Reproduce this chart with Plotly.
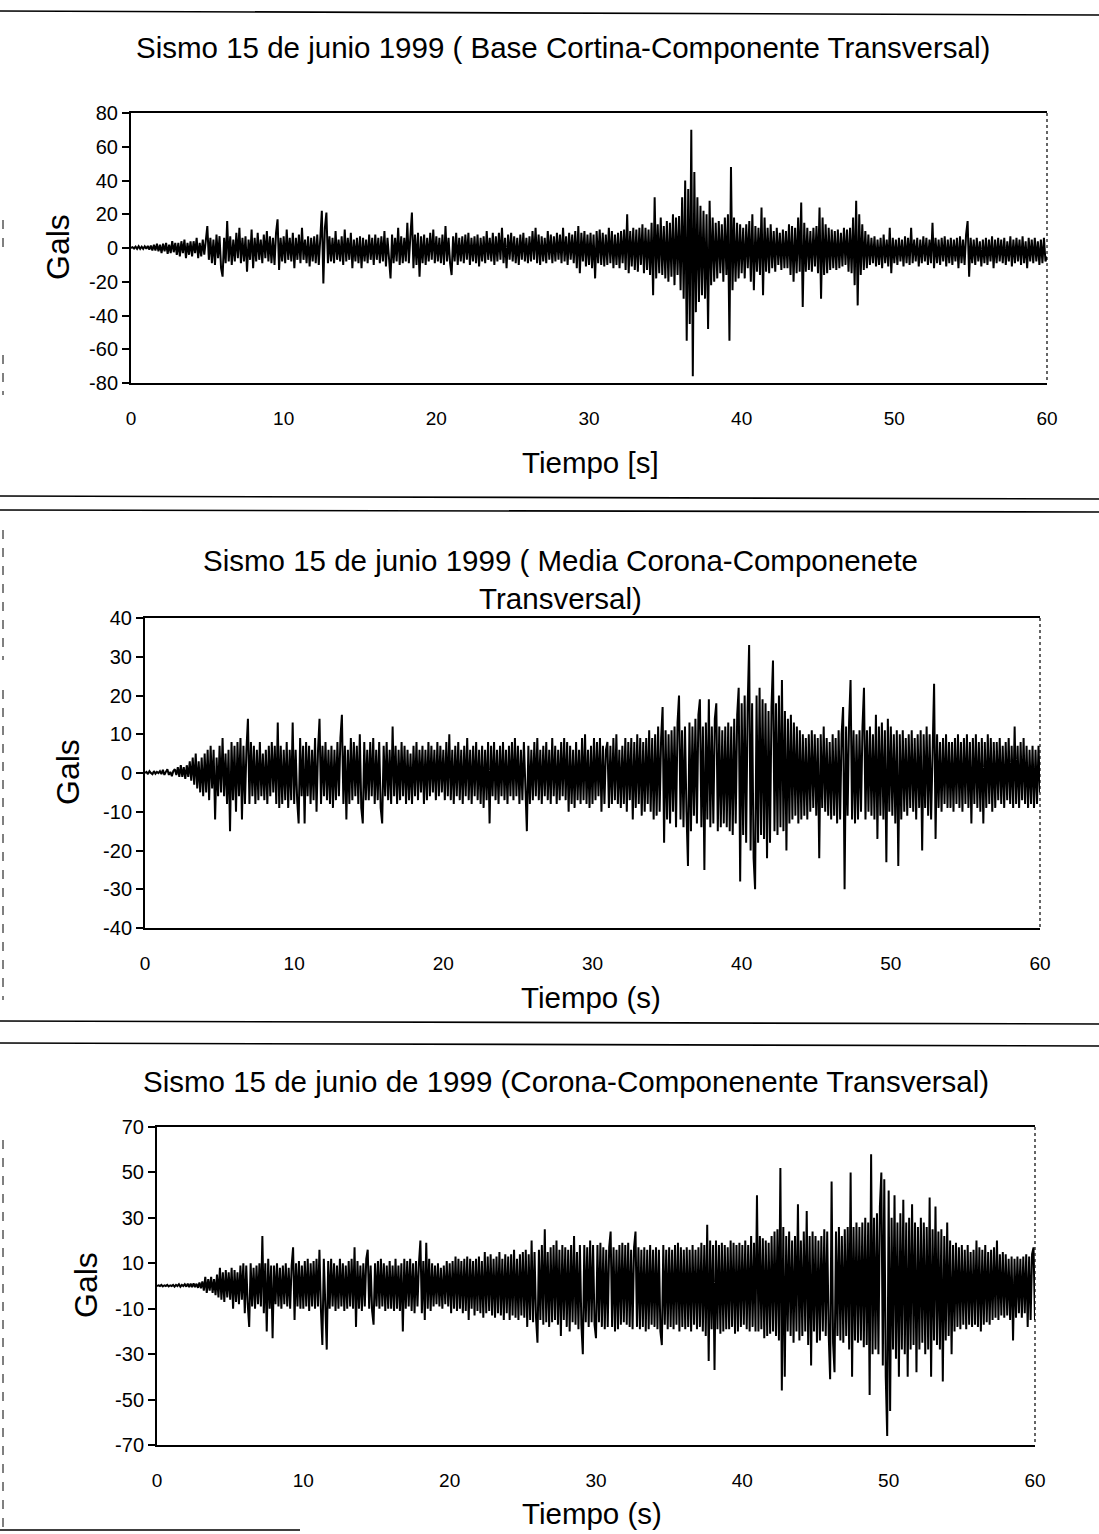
import plotly.graph_objects as go

W, H = 1099, 1534
DT = 0.1  # sample step (s) of the hand-read traces

# ---------------- data (Gals), 10 samples per second ----------------
base_cortina = [
    0, 0.5, -0.3, 0.8, -0.5, 1, -0.5, 0.8, -0.5, 1,            # 0 s
    -0.5, 1.2, -1, 1.5, -1.5, 2, -1.5, 2.5, -2, 2,             # 1
    -3, 2.5, -2, 3, -3.5, 2, -3, 4, -2.5, 3,                   # 2
    -4, 3, -5, 4, -3, 5, -6, 3, -4, 4,                         # 3
    -5, 4, -3, 6, -6, 3, -5, 5, -4, 5,                         # 4
    13, -7, 6, -9, 5, -10, 8, -6, 7, -12,                      # 5
    -17, 6, -9, 16, -8, 7, -10, 5, -8, 9,                      # 6
    -6, 12, -9, 6, -8, 7, -14, 5, -7, 11,                      # 7
    -12, 6, -8, 9, -7, 5, -9, 8, -6, 10,                       # 8
    -8, 7, -9, 6, -10, 9, 17, -13, 6, -8,                      # 9
    7, -9, 11, -7, 6, -8, 9, -12, 6, -7,                       # 10
    8, -9, 12, -7, 5, -9, 7, -11, 6, -8,                       # 11
    7, -9, 8, -10, 6, 22, -21, 12, 21, -9,                     # 12
    7, -8, 6, -9, 10, -7, 5, -8, 7, -10,                       # 13
    11, -8, 6, -7, 9, -12, 5, -8, 6, -9,                       # 14
    7, -12, 6, -8, 5, -9, 8, -7, 6, -10,                       # 15
    8, -7, 6, -9, 7, -8, 10, -11, 6, -7,                       # 16
    -18, 8, -9, 6, -8, 12, -10, 7, -9, 6,                      # 17
    -8, 15, -9, 7, 21, -12, 8, -10, 9, -17,                    # 18
    7, -9, 8, -10, 6, -8, 9, -7, 11, -9,                       # 19
    7, -8, 6, -9, 8, -10, 13, -8, 6, -9,                       # 20
    -16, 7, -8, 9, -10, 6, -8, 7, -9, 8,                       # 21
    -7, 9, -10, 6, -8, 7, -9, 8, -11, 6,                       # 22
    -8, 7, -9, 10, -7, 6, -8, 9, -10, 7,                       # 23
    -8, 9, -7, 12, -9, 6, -12, 8, -7, 9,                       # 24
    -8, 7, -9, 6, -10, 8, -7, 9, -8, 6,                        # 25
    -9, 7, -8, 10, -7, 12, -9, 8, -10, 7,                      # 26
    -8, 6, -9, 10, -7, 8, -9, 7, -8, 9,                        # 27
    -7, 8, -9, 12, -8, 7, -10, 9, -7, 8,                       # 28
    -9, 10, -12, 13, -15, 9, -8, 10, -11, 8,                   # 29
    -10, 9, -12, 8, -18, 10, -9, 11, -10, 9,                   # 30
    -11, 8, -10, 12, -9, 10, -12, 8, -10, 9,                   # 31
    -12, 10, -9, 11, -13, 20, -15, 10, -11, 12,                # 32
    -13, 11, -14, 12, -10, 14, -15, 12, -13, 11,               # 33
    -16, 15, -28, 30, -18, 14, -15, 18, -16, 13,               # 34
    -18, 16, -20, 15, -17, 20, -22, 18, -16, 19,               # 35
    -25, 30, -30, 40, -55, 35, -45, 70, -76, 45,               # 36
    -38, 30, -32, 25, -28, 22, -30, 20, -48, 28,               # 37
    -22, 18, -20, 15, -18, 16, -15, 14, -20, 18,               # 38
    -16, 20, -55, 48, -25, 18, -20, 15, -18, 14,               # 39
    -15, 12, -18, 14, -12, 16, -20, 20, -25, 13,               # 40
    -14, 12, -16, 24, -28, 18, -14, 12, -15, 14,               # 41
    -12, 10, -14, 12, -10, 9, -13, 11, -12, 10,                # 42
    -12, 14, -16, 13, -20, 12, -15, 18, -14, 27,               # 43
    -35, 15, -14, 12, -13, 10, -14, 12, -11, 13,               # 44
    -15, 24, -30, 18, -16, 14, -15, 12, -13, 11,               # 45
    -12, 10, -13, 11, -12, 9, -11, 12, -10, 11,                # 46
    -14, 12, -15, 18, -22, 28, -34, 20, -16, 14,               # 47
    -13, 10, -12, 8, -10, 6, -9, 7, -11, 5,                    # 48
    -10, 6, -12, 8, -9, 5, -11, 12, -15, 6,                    # 49
    -9, 5, -10, 6, -8, 5, -11, 7, -9, 6,                       # 50
    -10, 12, -9, 5, -8, 6, -11, 5, -9, 7,                      # 51
    -8, 6, -10, 5, -9, 15, -12, 6, -9, 5,                      # 52
    -10, 6, -8, 7, -11, 5, -9, 6, -10, 5,                      # 53
    -8, 6, -12, 7, -9, 5, -10, 8, 16, -17,                     # 54
    6, -9, 5, -10, 6, -8, 4, -11, 5, -9,                       # 55
    6, -10, 5, -8, 7, -12, 5, -9, 6, -8,                       # 56
    5, -9, 6, -10, 4, -8, 7, -11, 5, -9,                       # 57
    6, -8, 5, -10, 7, -9, 4, -12, 6, -8,                       # 58
    5, -9, 6, -8, 4, -10, 5, -9, 6, -8,                        # 59
    -5,                                                        # 60
]

media_corona = [
    0, 0.3, -0.3, 0.5, 0, -0.3, 0.5, -0.2, 0.3, 0,             # 0 s
    0.5, -0.3, 0.8, -0.5, 0.3, 1, -0.5, 0.3, -0.8, 0.5,        # 1
    1, -0.5, 1.5, -1, 2, -1, 1.5, -1.5, 2, -1,                 # 2
    3, -2, 4, -3, 5, -4, 3, -5, 4, -6,                         # 3
    5, -5, 6, -7, 7, -4, 6, -12, 4, -6,                        # 4
    7, -5, 9, -6, 5, -8, 6, -15, 8, -7,                        # 5
    7, -10, 8, -6, 9, -12, 7, -8, 6, 14,                       # 6
    -8, 8, -6, 7, -8, 6, -7, 8, -6, 5,                         # 7
    -7, 6, -8, 7, -6, 8, -5, 7, -8, 13,                        # 8
    -9, 7, -8, 6, -7, 8, -9, 6, -7, 13,                        # 9
    -8, 6, -7, -13, 9, -6, 7, -13, 8, -6,                      # 10
    7, -8, 6, -7, 9, -10, 6, 14, -8, 7,                        # 11
    -6, 8, -7, 6, -8, 7, -9, 6, -7, 8,                         # 12
    -6, 9, 15, -8, 7, -12, 6, -8, 9, -7,                       # 13
    8, -6, 7, -8, 10, -9, -13, 8, -7, 6,                       # 14
    -7, 8, -6, 9, -8, 6, -7, 8, -9, -13,                       # 15
    7, -6, 8, -7, 6, -8, 12, -6, 7, -8,                        # 16
    6, -7, 8, -6, 7, -8, 6, -7, 5, -8,                         # 17
    7, -6, 8, -7, 6, -5, 7, -8, 6, -7,                         # 18
    8, -6, 7, -5, 6, -7, 8, -6, 7, -5,                         # 19
    6, -7, 8, -6, 10, -7, 6, -8, 7, -6,                        # 20
    8, -7, 6, -8, 7, -6, 9, -7, 6, -8,                         # 21
    7, -6, 8, -7, 6, -8, 7, -9, 6, -7,                         # 22
    8, -13, 7, -6, 8, -7, 6, -8, 7, -6,                        # 23
    8, -7, 6, -8, 7, -6, 8, -7, 9, -6,                         # 24
    7, -8, 6, -7, 8, -6, -15, 7, -8, 6,                        # 25
    -7, 8, -6, 9, -7, 6, -8, 7, -6, 8,                         # 26
    -7, 6, -8, 9, -6, 7, -8, 6, -7, 8,                         # 27
    -6, 9, -7, 8, -10, 7, -8, 6, -9, 8,                        # 28
    -7, 6, -8, 9, -7, 10, -8, 6, -9, 7,                        # 29
    -8, 9, -7, 8, -6, 9, -10, 7, -8, 6,                        # 30
    8, -9, 7, -8, 9, -7, 10, -8, 6, -9,                        # 31
    7, -8, 9, -10, 8, -7, 9, -12, 8, -9,                       # 32
    10, -8, 9, -11, 8, -10, 9, -8, 11, -10,                    # 33
    9, -12, 10, -11, 12, -10, 9, 17, -18, 11,                  # 34
    -12, 10, -13, 11, -10, 12, -14, 13, 20, -12,               # 35
    11, -14, 12, -10, -24, 13, -15, 12, -11, 14,               # 36
    -13, 15, 19, -14, 12, -25, 13, -12, 19, -14,               # 37
    12, -13, 14, 18, -15, 12, -14, 11, -13, 12,                # 38
    -14, 13, -15, 12, -16, 14, -13, 15, 22, -28,               # 39
    18, -16, 20, -18, 17, 33, -20, 18, -22, -30,               # 40
    20, -18, 22, -16, 19, -17, 18, -22, 16, -18,               # 41
    17, 29, -15, 18, -16, 20, -14, 24, -15, 16,                # 42
    -20, 14, -13, 15, -12, 13, -11, 12, -13, 11,               # 43
    -12, 10, -11, 9, -12, 10, -10, 11, -9, 10,                 # 44
    -11, 9, -22, 10, -9, 12, -10, 9, -11, 8,                   # 45
    -12, 10, -11, 9, -13, 11, -12, 10, 17, -30,                # 46
    12, -11, 13, 24, -12, 11, -13, 10, -12, 11,                # 47
    -10, 12, 22, -12, 11, -10, 12, -11, 10, -12,               # 48
    15, -17, 12, -11, 13, -12, 11, -23, 14, -10,               # 49
    12, -11, 10, -13, 11, -24, 10, -12, 11, -10,               # 50
    9, -11, 10, -9, 11, -10, 9, -12, 10, -9,                   # 51
    11, -20, 10, -9, 12, -11, 10, -12, 9, 23,                  # 52
    -17, 10, -9, 8, -10, 9, -8, 10, -9, 8,                     # 53
    -9, 8, -10, 9, -8, 10, -9, 8, -10, 9,                      # 54
    -8, 10, -9, 8, -13, 9, -8, 10, -9, 8,                      # 55
    -10, 9, -13, 8, -9, 10, -8, 9, -10, 8,                     # 56
    -9, 8, -7, 9, -8, 7, -9, 8, -7, 9,                         # 57
    -8, 7, -9, 12, -8, 7, -9, 8, -7, 9,                        # 58
    -8, 7, -9, 6, -8, 7, -9, 6, -8, 7,                         # 59
    -5,                                                        # 60
]

corona = [
    0, 0.3, 0, 0.5, -0.2, 0.3, 0, 0.5, -0.2, 0.3,              # 0 s
    0, 0.5, -0.3, 0.5, 0, 0.8, -0.3, 0.5, 0, 0.8,              # 1
    -0.3, 1, -0.5, 1, -0.5, 1.2, -0.5, 1, -0.8, 1.5,           # 2
    -1, 2, -2, 4, -3, 3, -2, 4, -3, 3,                         # 3
    -4, 5, -5, 8, -6, 6, -7, 7, -5, 6,                         # 4
    -6, 8, -10, 7, -7, 6, -8, 9, -6, 10,                       # 5
    -12, 9, -8, -18, 10, -9, 8, -10, 9, -8,                    # 6
    10, -9, 22, -12, 10, -20, 12, -10, 9, -23,                 # 7
    9, -8, 10, -9, 8, -10, 9, -8, 10, -9,                      # 8
    8, -10, 9, 17, -15, 10, -9, 11, -10, 9,                    # 9
    -10, 11, -9, 12, -11, 10, -9, 11, -10, 12,                 # 10
    -9, 16, -10, -26, 12, -10, -28, 11, -10, 12,               # 11
    -9, 10, -11, 9, -10, 12, -9, 10, -11, 9,                   # 12
    -10, 11, -9, 12, -10, 17, -18, 11, -10, 9,                 # 13
    -11, 10, -9, 12, 16, -10, 9, -11, -17, 10,                 # 14
    -9, 11, -10, 12, -9, 10, -11, 9, -10, 11,                  # 15
    -10, 9, -11, 12, -10, 9, -11, 10, -20, 12,                 # 16
    -10, 11, -9, 12, -11, 10, -12, 11, -9, 10,                 # 17
    20, -12, 11, -15, 19, -10, 12, -11, 10, -9,                # 18
    9, -8, 10, -9, 8, -10, 9, -8, 11, -9,                      # 19
    10, -12, 11, -10, 13, -11, 12, -10, 11, -12,               # 20
    12, -11, 13, -15, 12, -10, 11, -13, 12, -11,               # 21
    13, -12, 11, -14, 15, -12, 13, -11, 14, -13,               # 22
    12, -14, 13, -12, 15, -13, 12, -15, 14, -12,               # 23
    13, -15, 14, -13, 16, -14, 12, -15, 14, -13,               # 24
    15, -14, 16, -18, 14, -15, 20, -16, 15, -14,               # 25
    -25, 16, -15, 18, -17, 25, -16, 15, -18, 17,               # 26
    -16, 18, -15, 20, -17, 16, -22, 18, -15, 17,               # 27
    -18, 16, -20, 18, -16, 22, -17, 15, -19, 18,               # 28
    -17, -30, 18, -16, 17, -18, 20, -16, 18, -17,              # 29
    -23, 18, -16, 19, -18, 17, -19, 16, -18, 17,               # 30
    24, -18, 17, -20, 16, -19, 18, -17, 19, -16,               # 31
    18, -17, 19, -18, 16, -19, 17, 24, -18, 17,                # 32
    -19, 16, -18, 17, -20, 16, -19, 18, -17, 16,               # 33
    -18, 17, -19, 16, -20, -26, 18, -17, 16, -19,              # 34
    17, -18, 16, -19, 18, -17, 19, -20, 17, -18,               # 35
    16, -19, 17, -18, 16, -20, 18, -17, 16, -19,               # 36
    17, -18, 19, -20, 18, -22, 27, -33, 20, -19,               # 37
    18, -37, 20, -19, 18, -21, 19, -20, 18, -19,               # 38
    17, -19, 20, -18, 19, -21, 18, -20, 19, -18,               # 39
    18, -17, 20, -19, 18, -20, 22, -18, 19, -20,               # 40
    40, -20, 22, -19, 21, -23, 20, -22, 19, -21,               # 41
    22, -20, 24, -22, 25, -24, 52, -46, 26, -40,               # 42
    22, -20, 24, -22, 20, -25, 22, -20, 36, -24,               # 43
    20, -22, 24, -20, 33, -26, 22, -35, 24, -20,               # 44
    22, -25, 20, -24, 22, -20, 25, -22, 24, -21,               # 45
    -41, 46, -25, -38, 24, -22, 26, -24, 22, -25,              # 46
    25, -22, 26, -28, 50, -40, 26, -24, 28, -25,               # 47
    26, -24, 28, -27, 30, -26, 28, -48, 58, -30,               # 48
    30, -28, 32, -30, 35, 50, -35, 47, -40, -66,               # 49
    42, -55, 30, -28, 40, -32, 28, -40, 32, -28,               # 50
    38, -30, 28, -40, 30, -28, 36, -26, 28, -38,               # 51
    26, -28, 30, -25, 28, -30, 26, -28, 39, -40,               # 52
    25, -24, 35, -26, 24, -28, 25, -42, 22, -24,               # 53
    28, -22, 20, -30, 18, -20, 19, -18, 17, -19,               # 54
    18, -17, 16, -19, 18, -17, 15, -18, 16, -17,               # 55
    20, -18, 17, -20, 16, -17, 18, -16, 15, -17,               # 56
    16, -15, 17, -14, 20, -15, 14, -13, 15, -14,               # 57
    14, -13, 12, -15, 13, -24, 12, -14, 13, -12,               # 58
    12, -14, 13, -12, 14, -18, 13, -15, 14, 17,                # 59
    -15,                                                       # 60
]

titles = [
    "Sismo 15 de junio 1999 ( Base Cortina-Componente Transversal)",
    "Sismo 15 de junio 1999 ( Media Corona-Componenete<br>Transversal)",
    "Sismo 15 de junio de 1999 (Corona-Componenente Transversal)",
]
x_titles = ["Tiempo [s]", "Tiempo (s)", "Tiempo (s)"]
y_title = "Gals"
x_ticks = [0, 10, 20, 30, 40, 50, 60]
y_ticks = [
    [80, 60, 40, 20, 0, -20, -40, -60, -80],
    [40, 30, 20, 10, 0, -10, -20, -30, -40],
    [70, 50, 30, 10, -10, -30, -50, -70],
]
y_ranges = [[-80, 80], [-40, 40], [-70, 70]]
series = [base_cortina, media_corona, corona]

# ---------------- layout geometry (pixels) ----------------
plots = [  # left, right, top, bottom
    (131, 1047, 113, 383),
    (145, 1040, 618, 928),
    (157, 1035, 1127, 1445),
]
title_pos = [(563, 47), (560, 579), (566, 1081)]
xtitle_pos = [(590, 462), (591, 997), (592, 1513)]
ytitle_pos = [(58, 247), (68, 772), (86, 1285)]

FONT = "Liberation Sans, Arial, sans-serif"

def px(x):
    return x / W

def py(y):
    return 1 - y / H

fig = go.Figure()
annotations = []
shapes = []

for i, vals in enumerate(series):
    n = i + 1
    xa = "x" if n == 1 else f"x{n}"
    ya = "y" if n == 1 else f"y{n}"
    t = [round(k * DT, 2) for k in range(len(vals))]
    fig.add_trace(go.Scatter(
        x=t, y=vals, mode="lines", xaxis=xa, yaxis=ya,
        line=dict(color="black", width=2.0), showlegend=False,
        hoverinfo="skip"))
    l, r, tp, bt = plots[i]
    xkey = "xaxis" if n == 1 else f"xaxis{n}"
    ykey = "yaxis" if n == 1 else f"yaxis{n}"
    fig.layout[xkey] = dict(
        domain=[px(l), px(r)], anchor=ya, range=[0, 60],
        tickvals=x_ticks, ticktext=[str(v) for v in x_ticks],
        ticks="", showgrid=False, zeroline=False, automargin=False,
        showline=True, linecolor="black", linewidth=2, mirror=True,
        tickfont=dict(family=FONT, size=19, color="black"),
        ticklabelstandoff=17,
    )
    fig.layout[ykey] = dict(
        domain=[py(bt), py(tp)], anchor=xa, range=y_ranges[i],
        tickvals=y_ticks[i], ticktext=[str(v) for v in y_ticks[i]],
        ticks="outside", ticklen=7, tickwidth=1.5, automargin=False,
        tickcolor="black", showgrid=False, zeroline=False,
        showline=True, linecolor="black", linewidth=2, mirror=False,
        tickfont=dict(family=FONT, size=20, color="black"),
    )
    # dotted right border of plot area (as scanned)
    shapes.append(dict(type="line", xref="paper", yref="paper",
                       x0=px(r), x1=px(r), y0=py(tp), y1=py(bt),
                       line=dict(color="black", width=1.2, dash="dot")))
    tx, ty = title_pos[i]
    annotations.append(dict(text=titles[i], x=px(tx), y=py(ty), xref="paper",
                            yref="paper", showarrow=False,
                            font=dict(family=FONT, size=29.5, color="black"),
                            xanchor="center", yanchor="middle"))
    tx, ty = xtitle_pos[i]
    annotations.append(dict(text=x_titles[i], x=px(tx), y=py(ty), xref="paper",
                            yref="paper", showarrow=False,
                            font=dict(family=FONT, size=29.5, color="black"),
                            xanchor="center", yanchor="middle"))
    tx, ty = ytitle_pos[i]
    annotations.append(dict(text=y_title, x=px(tx), y=py(ty), xref="paper",
                            yref="paper", showarrow=False, textangle=-90,
                            font=dict(family=FONT, size=32, color="black"),
                            xanchor="center", yanchor="middle"))

# page separator rules from the scanned sheet
for (x0, y0, x1, y1) in [(0, 11, 1099, 15), (0, 496, 1099, 499),
                         (0, 510, 1099, 512), (0, 1021, 1099, 1024),
                         (0, 1043, 1099, 1046), (0, 1530, 300, 1530)]:
    shapes.append(dict(type="line", xref="paper", yref="paper",
                       x0=px(x0), x1=px(x1), y0=py(y0), y1=py(y1),
                       line=dict(color="black", width=1.6)))
# faint dashed scan edge on the left
for (y0, y1) in [(220, 250), (355, 395), (530, 660), (690, 1000), (1140, 1530)]:
    shapes.append(dict(type="line", xref="paper", yref="paper",
                       x0=px(3), x1=px(3), y0=py(y0), y1=py(y1),
                       line=dict(color="black", width=1, dash="dash")))

fig.update_layout(
    width=W, height=H,
    margin=dict(l=0, r=0, t=0, b=0, pad=0, autoexpand=False),
    paper_bgcolor="white", plot_bgcolor="white",
    annotations=annotations, shapes=shapes,
    font=dict(family=FONT, color="black"),
)

fig.write_html("out.html")
